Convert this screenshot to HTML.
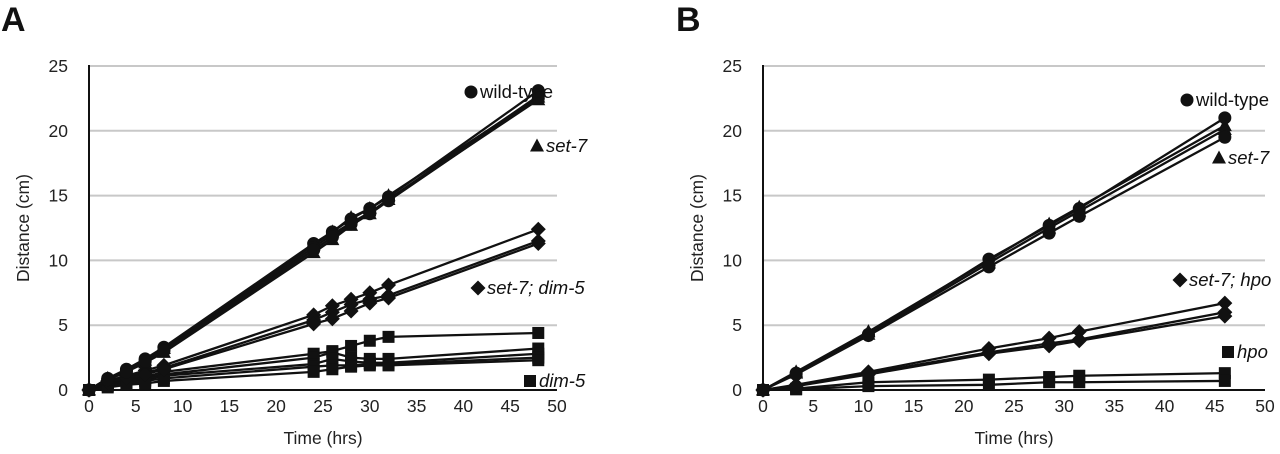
<!DOCTYPE html>
<html><head><meta charset="utf-8">
<style>
html,body{margin:0;padding:0;background:#fff;}
svg{display:block;font-family:"Liberation Sans",Arial,sans-serif;}
</style></head>
<body>
<svg id="fig" width="1280" height="454" viewBox="0 0 1280 454" xmlns="http://www.w3.org/2000/svg"></svg>
<script>
// Panel A data
const timesA = [0,2,4,6,8,24,26,28,30,32,48];
const wtA = [
 [0,0.9,1.6,2.4,3.3,11.3,12.2,13.2,14.0,14.9,23.1],
 [0,0.8,1.5,2.3,3.1,11.0,12.0,12.9,13.7,14.7,22.7],
 [0,0.8,1.4,2.2,3.0,10.8,11.8,12.8,13.6,14.6,22.5]
];
const set7A = [
 [0,0.9,1.5,2.3,3.2,11.2,12.2,13.3,14.0,15.0,22.6],
 [0,0.8,1.4,2.1,2.9,10.6,11.6,12.7,13.6,14.7,22.4]
];
const dblA = [
 [0,0.7,1.1,1.5,1.9,5.8,6.5,7.0,7.5,8.1,12.4],
 [0,0.6,1.0,1.3,1.7,5.4,6.0,6.6,7.0,7.3,11.5],
 [0,0.6,0.9,1.2,1.6,5.1,5.5,6.1,6.7,7.1,11.3]
];
const dimA = [
 [0,0.5,0.8,1.0,1.4,2.8,3.0,3.4,3.8,4.1,4.4],
 [0,0.4,0.7,0.9,1.2,2.5,2.9,2.5,2.4,2.4,3.2],
 [0,0.4,0.6,0.8,1.1,2.0,2.4,2.2,2.1,2.1,2.8],
 [0,0.3,0.5,0.7,0.9,1.8,1.9,1.9,2.0,2.0,2.5],
 [0,0.2,0.4,0.5,0.7,1.4,1.6,1.8,1.9,1.9,2.3]
];
// Panel B data
const timesB = [0,3.3,10.5,22.5,28.5,31.5,46];
const wtB = [
 [0,1.3,4.3,10.1,12.7,14.0,21.0],
 [0,1.2,4.2,9.5,12.1,13.4,19.5]
];
const set7B = [
 [0,1.4,4.5,10.0,12.8,14.1,20.4],
 [0,1.3,4.3,9.8,12.5,13.8,20.1]
];
const dblB = [
 [0,0.4,1.4,3.2,4.0,4.5,6.7],
 [0,0.35,1.3,2.9,3.6,3.9,6.0],
 [0,0.3,1.2,2.8,3.4,3.8,5.7]
];
const hpoB = [
 [0,0.1,0.6,0.8,1.0,1.1,1.3],
 [0,0.05,0.3,0.4,0.6,0.6,0.7]
];
const xTicks = [0,5,10,15,20,25,30,35,40,45,50];
const yTicks = [0,5,10,15,20,25];

const NS="http://www.w3.org/2000/svg";
const svg=document.getElementById('fig');
function mk(tag,attrs,parent){const e=document.createElementNS(NS,tag);for(const k in attrs)e.setAttribute(k,attrs[k]);(parent||svg).appendChild(e);return e;}

function marker(g,shape,x,y){
  let e;
  if(shape==='circle'){e=mk('circle',{cx:x,cy:y,r:6.5,fill:'#111'},g);}
  else if(shape==='tri'){e=mk('polygon',{points:`${x},${y-7.5} ${x+7},${y+5.5} ${x-7},${y+5.5}`,fill:'#111'},g);}
  else if(shape==='diamond'){e=mk('polygon',{points:`${x},${y-7.5} ${x+7.5},${y} ${x},${y+7.5} ${x-7.5},${y}`,fill:'#111'},g);}
  else {e=mk('rect',{x:x-6,y:y-6,width:12,height:12,fill:'#111'},g);}
  
  
}

function panel(cfg){
  const g=mk('g',{});
  
  
  const X=v=>cfg.x0+(cfg.x1-cfg.x0)*v/50;
  const Y=v=>cfg.y0-(cfg.y0-cfg.y1)*v/25;
  yTicks.forEach(t=>{
    if(t>0){const l=mk('line',{x1:X(0),x2:X(50),y1:Y(t),y2:Y(t),stroke:'#c8c8c8','stroke-width':2},g);
      }
    const tx=mk('text',{x:X(0)-21,y:Y(t)+6,'font-size':17.5,'text-anchor':'end',fill:'#222'},g);
    tx.textContent=t;
    
  });
  xTicks.forEach(t=>{
    const tx=mk('text',{x:X(t),y:cfg.y0+22,'font-size':17.5,'text-anchor':'middle',fill:'#222'},g);
    tx.textContent=t;
    
  });
  const ya=mk('line',{x1:X(0),x2:X(0),y1:Y(25)-1,y2:Y(0),stroke:'#111','stroke-width':2},g);
  
  const xa=mk('line',{x1:X(0),x2:X(50),y1:Y(0),y2:Y(0),stroke:'#111','stroke-width':2},g);
  
  cfg.series.forEach(s=>{
    s.data.forEach(arr=>{
      const pts=arr.map((v,i)=>X(cfg.times[i])+','+Y(v)).join(' ');
      const pl=mk('polyline',{points:pts,fill:'none',stroke:'#111','stroke-width':2.3},g);
      
      
      arr.forEach((v,i)=>marker(g,s.shape,X(cfg.times[i]),Y(v)));
    });
  });
  const yt=mk('text',{x:0,y:0,'font-size':17.5,'text-anchor':'middle',fill:'#222',transform:`translate(${cfg.x0-60},${(cfg.y0+cfg.y1)/2}) rotate(-90)`},g);
  yt.textContent='Distance (cm)';
  
  const xt=mk('text',{x:(X(0)+X(50))/2,y:cfg.y0+54,'font-size':17.5,'text-anchor':'middle',fill:'#222'},g);
  xt.textContent='Time (hrs)';
  
  const pl=mk('text',{x:cfg.letterX,y:31,'font-size':34,'font-weight':'bold',fill:'#111'},g);
  pl.textContent=cfg.letter;
  
  cfg.legends.forEach(L=>{
    const lg=mk('g',{},g);
    
    
    marker(lg,L.shape,L.mx,L.y-6);
    const t=mk('text',{x:L.mx+9,y:L.y,'font-size':18.5,fill:'#111','font-style':L.italic?'italic':'normal'},lg);
    t.textContent=L.text;
  });
}

panel({name:'panel-a',letter:'A',letterX:1,x0:89,x1:557,y0:390,y1:66,times:timesA,
  series:[{key:'dim5',shape:'square',data:dimA},{key:'set7-dim5',shape:'diamond',data:dblA},
          {key:'set7',shape:'tri',data:set7A},{key:'wild-type',shape:'circle',data:wtA}],
  legends:[{shape:'circle',mx:471,y:98,text:'wild-type'},{shape:'tri',mx:537,y:152,text:'set-7',italic:true},
           {shape:'diamond',mx:478,y:294,text:'set-7; dim-5',italic:true},{shape:'square',mx:530,y:387,text:'dim-5',italic:true}]});
panel({name:'panel-b',letter:'B',letterX:676,x0:763,x1:1265,y0:390,y1:66,times:timesB,
  series:[{key:'hpo',shape:'square',data:hpoB},{key:'set7-hpo',shape:'diamond',data:dblB},
          {key:'set7',shape:'tri',data:set7B},{key:'wild-type',shape:'circle',data:wtB}],
  legends:[{shape:'circle',mx:1187,y:106,text:'wild-type'},{shape:'tri',mx:1219,y:164,text:'set-7',italic:true},
           {shape:'diamond',mx:1180,y:286,text:'set-7; hpo',italic:true},{shape:'square',mx:1228,y:358,text:'hpo',italic:true}]});
</script>
</body></html>
